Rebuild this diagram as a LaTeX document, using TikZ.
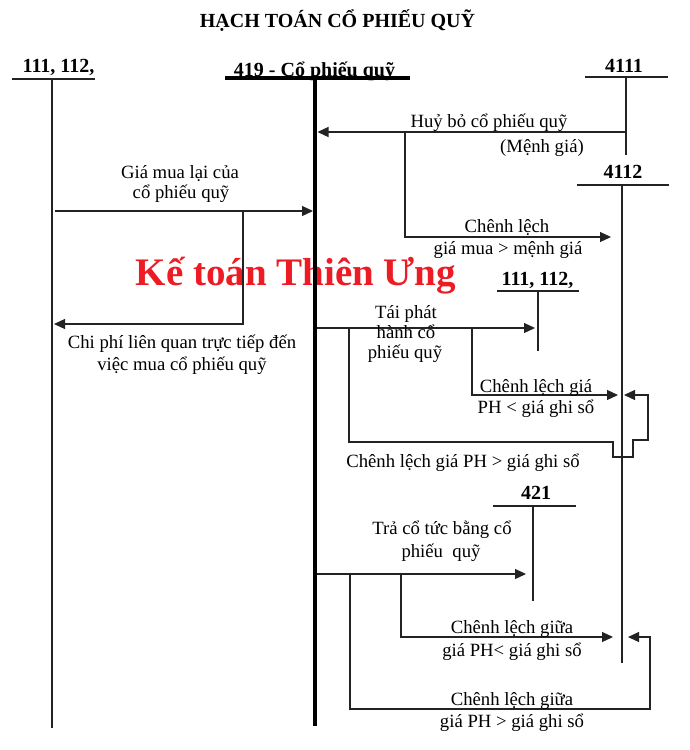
\documentclass[tikz,border=0pt]{standalone}
\usepackage{fontspec}
\setmainfont{Liberation Serif}
\usetikzlibrary{arrows.meta}
\definecolor{wmred}{RGB}{237,28,36}
\definecolor{lncol}{RGB}{35,35,35}
\begin{document}
\begin{tikzpicture}[x=1pt,y=-1pt,
  acctlbl/.style={font=\fontsize{20}{22}\selectfont\bfseries, anchor=base, inner sep=0pt},
  lbl/.style={font=\fontsize{18.7}{21}\selectfont, anchor=base, inner sep=0pt},
  uline/.style={line width=1.5pt, draw=lncol},
  tline/.style={line width=1.2pt, draw=lncol},
  mainline/.style={line width=3.2pt, draw=black},
  arr/.style={tline, -{Triangle[length=11pt,width=10pt]}}]
\useasboundingbox (0,0) rectangle (690,750);

% watermark
\node[font=\fontsize{39}{41}\selectfont\bfseries, text=wmred, anchor=base, inner sep=0pt] (wm) at (296,285) {Kế toán Thiên Ưng};

% title
\node[font=\fontsize{20}{22}\selectfont\bfseries, anchor=base, inner sep=0pt] (title) at (337.5,27) {HẠCH TOÁN CỔ PHIẾU QUỸ};

% account 111, 112 (left)
\node[acctlbl] (accA) at (58.5,72) {111, 112,};
\coordinate (accAL) at (12,79); \coordinate (accAR) at (95,79);
\coordinate (accAT) at (52,79); \coordinate (accAB) at (52,728);
\draw[uline] (accAL) -- (accAR);
\draw[tline] (accAT) -- (accAB);

% account 419
\node[acctlbl] (accM) at (314.5,76) {419 - Cổ phiếu quỹ};
\coordinate (accML) at (225,78); \coordinate (accMR) at (410,78);
\coordinate (accMT) at (315,78); \coordinate (accMB) at (315,726);
\draw[mainline] (accML) -- (accMR);
\draw[mainline] (accMT) -- (accMB);

% account 4111
\node[acctlbl] (accB) at (624,72) {4111};
\coordinate (accBL) at (585,77); \coordinate (accBR) at (668,77);
\coordinate (accBT) at (626,77); \coordinate (accBB) at (626,155);
\draw[uline] (accBL) -- (accBR);
\draw[tline] (accBT) -- (accBB);

% account 4112
\node[acctlbl] (accC) at (623,178) {4112};
\coordinate (accCL) at (577,185); \coordinate (accCR) at (669,185);
\coordinate (accCT) at (622,185); \coordinate (accCB) at (622,663);
\draw[uline] (accCL) -- (accCR);
\draw[tline] (accCT) -- (accCB);

% account 111, 112 (middle)
\node[acctlbl] (accD) at (537.5,285) {111, 112,};
\coordinate (accDL) at (497,291); \coordinate (accDR) at (579,291);
\coordinate (accDT) at (538,291); \coordinate (accDB) at (538,351);
\draw[uline] (accDL) -- (accDR);
\draw[tline] (accDT) -- (accDB);

% account 421
\node[acctlbl] (accE) at (536,499) {421};
\coordinate (accEL) at (493,506); \coordinate (accER) at (576,506);
\coordinate (accET) at (533,506); \coordinate (accEB) at (533,601);
\draw[uline] (accEL) -- (accER);
\draw[tline] (accET) -- (accEB);

% 1: huy bo
\coordinate (h1s) at (626,132); \coordinate (h1e) at (317.5,132);
\draw[arr] (h1s) -- (h1e);
\node[lbl] (l1a) at (489,127) {Huỷ bỏ cổ phiếu quỹ};
\node[lbl] (l1b) at (542,152) {(Mệnh giá)};

% 2: chenh lech gia mua > menh gia
\coordinate (b1s) at (405,132); \coordinate (b1e) at (611,237);
\draw[arr] (b1s) |- (b1e);
\node[lbl] (l2a) at (507,232) {Chênh lệch};
\node[lbl] (l2b) at (508,254) {giá mua > mệnh giá};

% 3: gia mua lai
\coordinate (g1s) at (55,211); \coordinate (g1e) at (313,211);
\draw[arr] (g1s) -- (g1e);
\node[lbl] (l3a) at (180,178) {Giá mua lại của};
\node[lbl] (l3b) at (181,198) {cổ phiếu quỹ};

% 4: chi phi lien quan
\coordinate (c1s) at (243,211); \coordinate (c1e) at (54,324);
\draw[arr] (c1s) |- (c1e);
\node[lbl] (l4a) at (182,348) {Chi phí liên quan trực tiếp đến};
\node[lbl] (l4b) at (182,370) {việc mua cổ phiếu quỹ};

% 5: tai phat hanh
\coordinate (t1s) at (317,328); \coordinate (t1e) at (535,328);
\draw[arr] (t1s) -- (t1e);
\node[lbl] (l5a) at (406,318) {Tái phát};
\node[lbl] (l5b) at (406,338) {hành cổ};
\node[lbl] (l5c) at (405,358) {phiếu quỹ};

% 6: chenh lech gia PH < gia ghi so
\coordinate (t2s) at (472,328); \coordinate (t2e) at (618,395);
\draw[arr] (t2s) |- (t2e);
\node[lbl] (l6a) at (536,392) {Chênh lệch giá};
\node[lbl] (l6b) at (536,413) {PH < giá ghi sổ};

% 7: chenh lech gia PH > gia ghi so
\coordinate (t3s) at (349,329); \coordinate (t3e) at (624,395);
\draw[arr] (t3s) -- (349,442) -- (613,442) -- (613,457) -- (633,457) -- (633,440) -- (648,440) -- (648,395) -- (t3e);
\node[lbl] (l7a) at (463,467) {Chênh lệch giá PH > giá ghi sổ};

% 8: tra co tuc
\coordinate (r1s) at (317,574); \coordinate (r1e) at (526,574);
\draw[arr] (r1s) -- (r1e);
\node[lbl] (l8a) at (442,534) {Trả cổ tức bằng cổ};
\node[lbl] (l8b) at (441,557) {phiếu~ quỹ};

% 9: chenh lech giua PH <
\coordinate (r2s) at (401,574); \coordinate (r2e) at (613,637);
\draw[arr] (r2s) |- (r2e);
\node[lbl] (l9a) at (512,633) {Chênh lệch giữa};
\node[lbl] (l9b) at (512,656) {giá PH< giá ghi sổ};

% 10: chenh lech giua PH >
\coordinate (r3s) at (350,574); \coordinate (r3e) at (628,637);
\draw[arr] (r3s) -- (350,709) -- (650,709) -- (650,637) -- (r3e);
\node[lbl] (l10a) at (512,705) {Chênh lệch giữa};
\node[lbl] (l10b) at (512,727) {giá PH > giá ghi sổ};
\end{tikzpicture}
\end{document}
